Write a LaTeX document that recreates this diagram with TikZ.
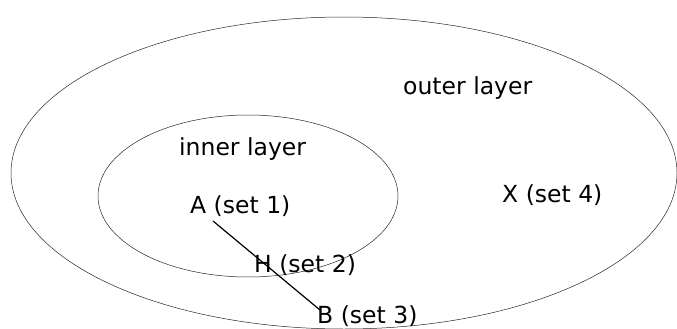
\documentclass[tikz,border=0pt]{standalone}
\usepackage{fontspec}
\setmainfont{DejaVu Sans}
\usetikzlibrary{calc}
\begin{document}
\begin{tikzpicture}[x=1pt,y=-1pt,
  layer/.style={draw=black!85,line width=0.5pt},
  lbl/.style={anchor=base west,inner sep=0pt,font=\fontsize{23.5}{28}\selectfont},
  link/.style={draw=black,line width=1.2pt}]
  \useasboundingbox (0,0) rectangle (677,329);
  \begin{scope}
    \clip (0,0) rectangle (677,329);
    % nested layers
    \draw[layer] (344,173) ellipse [x radius=333, y radius=156];
    \draw[layer] (248,196) ellipse [x radius=150, y radius=81];
  \end{scope}
  % labels
  \node[lbl] (outer) at (403,94) {outer layer};
  \node[lbl] (inner) at (179,155) {inner layer};
  \node[lbl] (A) at (190,213) {A (set 1)};
  \node[lbl] (X) at (502,202) {X (set 4)};
  \node[lbl] (H) at (254,272) {H (set 2)};
  \node[lbl] (B) at (317,323) {B (set 3)};
  % connection from A to B
  \draw[link] ($(A.base west)+(23,8)$) -- ($(B.base west)+(3,-13)$);
\end{tikzpicture}
\end{document}
